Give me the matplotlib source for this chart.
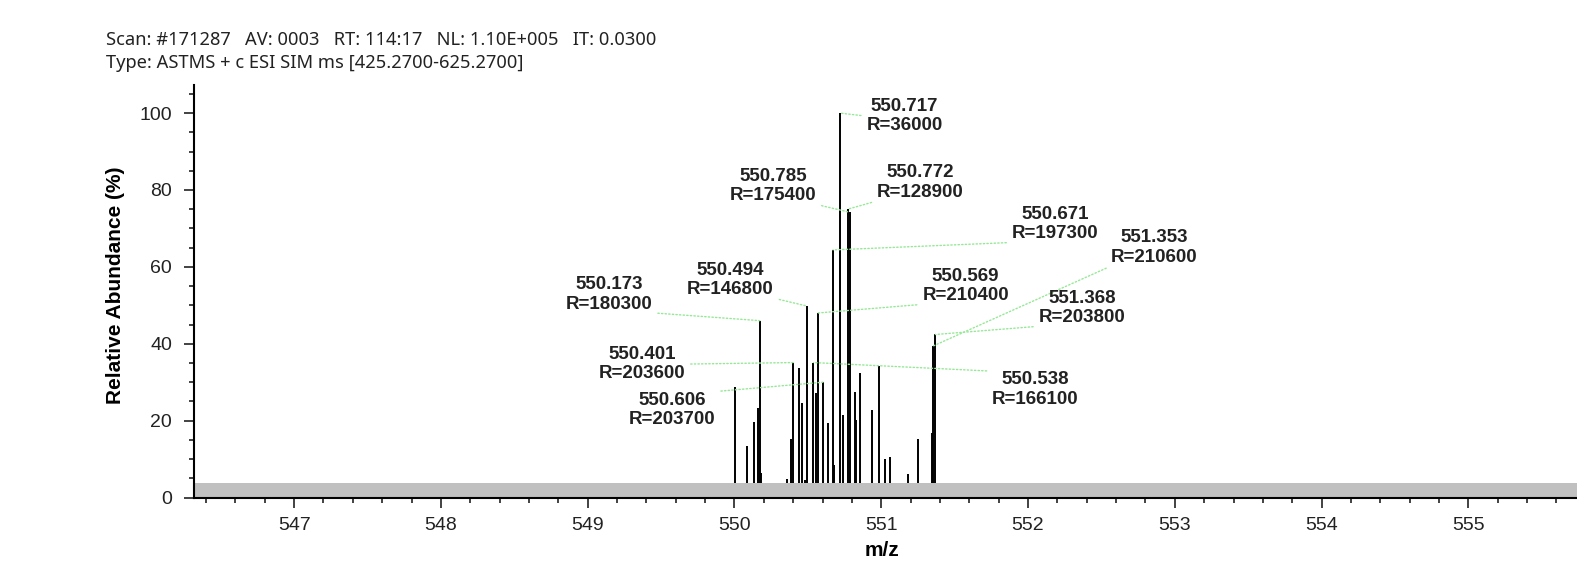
import matplotlib
matplotlib.use("Agg")
import matplotlib.pyplot as plt
from matplotlib.ticker import MultipleLocator

plt.rcParams['font.family'] = ['Liberation Sans', 'DejaVu Sans']

header1 = "Scan: #171287   AV: 0003   RT: 114:17   NL: 1.10E+005   IT: 0.0300"
header2 = "Type: ASTMS + c ESI SIM ms [425.2700-625.2700]"

# peak m/z and relative abundance (%)
peak_mz = [550.003, 550.087, 550.130, 550.162, 550.173, 550.183, 550.355, 550.385,
           550.401, 550.439, 550.460, 550.483, 550.494, 550.538, 550.558, 550.569,
           550.606, 550.640, 550.671, 550.681, 550.717, 550.737, 550.772, 550.785,
           550.819, 550.828, 550.855, 550.940, 550.985, 551.023, 551.058, 551.185,
           551.248, 551.344, 551.353, 551.368]
peak_int = [28.7, 13.4, 19.6, 23.3, 46.0, 6.5, 4.9, 15.3,
            35.1, 33.7, 24.5, 4.5, 49.8, 35.1, 27.1, 48.0,
            30.0, 19.5, 64.4, 8.4, 100.0, 21.4, 75.0, 74.2,
            27.5, 20.2, 32.5, 22.8, 34.1, 9.9, 10.6, 6.0,
            15.3, 16.8, 39.4, 42.4]

# labelled peaks and their resolution
label_mz = [550.717, 550.785, 550.772, 550.494, 550.173, 550.569,
            550.671, 551.353, 551.368, 550.538, 550.401, 550.606]
label_res = [36000, 175400, 128900, 146800, 180300, 210400,
             197300, 210600, 203800, 166100, 203600, 203700]

# where each label sits (data coords) and which corner the leader leaves from
label_xy = [(551.159, 99.2), (550.262, 81.0), (551.266, 81.9), (549.973, 56.6),
            (549.145, 52.8), (551.575, 55.0), (552.185, 71.1), (552.862, 65.0),
            (552.368, 49.3), (552.051, 28.1), (549.369, 34.7), (549.575, 22.8)]
label_rel = [(0, 0.5), (1, 0), (0, 0), (1, 0), (1, 0), (0, 0),
             (0, 0), (0, 0), (0, 0), (0, 1), (1, 0.5), (1, 1)]

fig = plt.figure(figsize=(15.77, 5.63), dpi=100)
ax = fig.add_axes([194.3 / 1577, 65.5 / 563, 1 - 194.3 / 1577, 412.5 / 563])

ax.vlines(peak_mz, 0, peak_int, color='black', lw=1.4, zorder=2)
ax.axhspan(0, 3.7, color='#c0c0c0', lw=0, zorder=3)

for mz, res, xy, rel in zip(label_mz, label_res, label_xy, label_rel):
    i = peak_mz.index(mz)
    ax.annotate(f"{mz:.3f}\nR={res}", xy=(mz, peak_int[i]), xytext=xy,
                ha='center', va='center', fontsize=13.5, fontweight='bold',
                color='#222222', linespacing=1.2, zorder=5,
                arrowprops=dict(arrowstyle='-', linestyle=(0, (1, 1.6)), color='#96e896',
                                lw=1.0, relpos=rel, patchA=None, shrinkA=4, shrinkB=0))

ax.set_xlim(546.32, 555.74)
ax.set_ylim(0, 107.3)
ax.xaxis.set_major_locator(MultipleLocator(1))
ax.xaxis.set_minor_locator(MultipleLocator(0.2))
ax.yaxis.set_major_locator(MultipleLocator(20))
ax.yaxis.set_minor_locator(MultipleLocator(5))
ax.tick_params(which='major', length=7, width=1.2, labelsize=14, colors='#222222')
ax.tick_params(which='minor', length=3.5, width=1.2, colors='#222222')
ax.tick_params(axis='x', pad=7)
ax.tick_params(axis='y', pad=9)

for s in ['top', 'right']:
    ax.spines[s].set_visible(False)
for s in ['left', 'bottom']:
    ax.spines[s].set_linewidth(1.5)
    ax.spines[s].set_zorder(6)

ax.set_ylabel("Relative Abundance (%)", fontsize=15, fontweight='bold')
ax.yaxis.set_label_coords(-0.050, 0.515)
ax.set_xlabel("m/z", fontsize=15, fontweight='bold')
ax.xaxis.set_label_coords(0.4974, -0.106)

fig.text(105.6 / 1577, 1 - 40.2 / 563, header1, fontsize=13.2, family='Noto Sans',
         ha='left', va='center', color='#222222')
fig.text(105.6 / 1577, 1 - 63.4 / 563, header2, fontsize=13.2, family='Noto Sans',
         ha='left', va='center', color='#222222')

fig.savefig("out.png", dpi=100)
